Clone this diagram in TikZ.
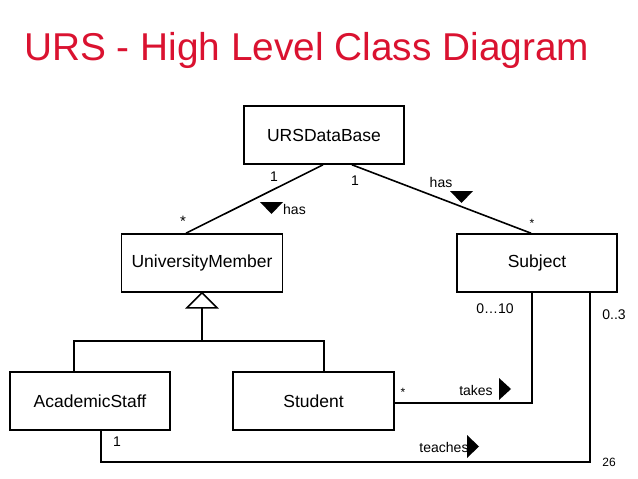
\documentclass[tikz,border=0pt]{standalone}
\usepackage{fontspec}
\setmainfont{Liberation Sans}
\usetikzlibrary{calc}
\definecolor{titlered}{RGB}{218,18,48}
\tikzset{
  cls/.style={draw=black, line width=1.6pt, fill=white, minimum width=160pt, minimum height=58pt, inner sep=0pt, font=\fontsize{17.5}{20}\selectfont},
  conn/.style={draw=black, line width=1.6pt},
  lbl/.style={inner sep=0pt, font=\fontsize{14}{16}\selectfont},
  star/.style={inner sep=0pt, font=\fontsize{12}{14}\selectfont},
  tri/.style={fill=black},
}
\begin{document}
\begin{tikzpicture}[x=1pt,y=-1pt]
\useasboundingbox (0,0) rectangle (638,479);
\fill[white] (0,0) rectangle (638,479);
\node[anchor=base west, inner sep=0pt, text=titlered, font=\fontsize{38.8}{44}\selectfont] (title) at (24,60) {URS - High Level Class Diagram};

\node[cls] (db) at (324,135) {URSDataBase};
\node[cls, minimum width=161pt] (um) at (202,263) {UniversityMember};
\node[cls] (subj) at (537,263) {Subject};
\node[cls] (acad) at (90,401) {AcademicStaff};
\node[cls, minimum width=161pt] (stud) at (313.5,401) {Student};

% associations from database
\draw[conn] ($(db.south)+(-1,0)$) -- ($(um.north)+(-16,0)$);
\draw[conn] ($(db.south)+(28,0)$) -- ($(subj.north)+(-6,0)$);

% generalization
\coordinate (gtop) at ($(um.south)+(0,15)$);
\coordinate (gjoin) at ($(um.south)+(0,48)$);
\draw[conn, fill=white, line join=miter] (um.south) -- ($(gtop)+(-15,0)$) -- ($(gtop)+(15,0)$) -- cycle;
\draw[conn] (gtop) -- (gjoin);
\draw[conn] (acad.north -| 74,0) |- (gjoin) -| (stud.north -| 324,0);

% takes
\coordinate (tk) at (532,403);
\draw[conn] (stud.east |- tk) -- (tk) -- (subj.south -| tk);
% teaches
\coordinate (tc1) at (101,462);
\coordinate (tc2) at (590,462);
\draw[conn] (acad.south -| tc1) -- (tc1) -- (tc2) -- (subj.south -| tc2);

% labels
\node[lbl] (m1) at (274,177) {1};
\node[lbl] (m2) at (355,181) {1};
\node[lbl] (has1) at (441,182) {has};
\fill[tri] (450,191) -- (473,191) -- (461.5,203) -- cycle;
\node[lbl, anchor=west] (has2) at (283,209) {has};
\fill[tri] (260,202) -- (283,202) -- (271.5,214) -- cycle;
\node[inner sep=0pt, font=\fontsize{15}{17}\selectfont] (s1) at (183,221) {*};
\node[star] (s2) at (532,223) {*};
\node[lbl] (m3) at (495,309) {0…10};
\node[lbl] (m4) at (614,315) {0..3};
\node[star] (s3) at (403,392) {*};
\node[lbl] (takes) at (476,390) {takes};
\fill[tri] (499,378) -- (511,389) -- (499,400) -- cycle;
\node[lbl] (m5) at (117,442) {1};
\node[lbl] (teaches) at (444,447) {teaches};
\fill[tri] (467,435) -- (479,446.5) -- (467,458) -- cycle;
\node[inner sep=0pt, font=\fontsize{12}{14}\selectfont] (pg) at (609,462) {26};
\end{tikzpicture}
\end{document}
